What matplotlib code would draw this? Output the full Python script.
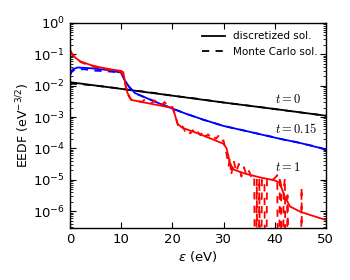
import numpy as np
import matplotlib
matplotlib.use("Agg")
import matplotlib.pyplot as plt

# t = 0
e_t0 = [0, 10, 20, 30, 40, 50]
sol_t0 = [1.29e-2, 7.9e-3, 4.8e-3, 2.9e-3, 1.8e-3, 1.1e-3]
e_mc_t0 = [0, 0.5, 2, 5, 8, 12, 16, 20, 25, 30, 35, 40, 45, 50]
mc_t0 = [1.08e-2, 1.15e-2, 1.12e-2, 1.0e-2, 8.8e-3, 7.2e-3, 6.0e-3,
         4.8e-3, 3.8e-3, 2.9e-3, 2.3e-3, 1.8e-3, 1.4e-3, 1.1e-3]

# t = 0.15
e_t15 = [0, 0.5, 1.5, 4, 7, 10, 10.7, 11.5, 12.7, 15, 18.5, 22.5, 26, 30, 35, 40, 45, 50]
sol_t15 = [2.4e-2, 3.3e-2, 3.8e-2, 3.6e-2, 3.2e-2, 2.6e-2, 1.5e-2, 9.5e-3, 5.8e-3,
           4.0e-3, 2.3e-3, 1.3e-3, 8.3e-4, 5.2e-4, 3.4e-4, 2.2e-4, 1.48e-4, 9.3e-5]
e_mc_t15 = [0, 0.5, 1.5, 3, 5, 7, 9, 10, 10.7, 11.5, 12.7, 15, 18.5, 22.5, 26, 30, 35,
            40, 42, 44, 46, 48, 50]
mc_t15 = [2.2e-2, 3.0e-2, 3.4e-2, 3.3e-2, 3.0e-2, 2.9e-2, 2.7e-2, 2.5e-2, 1.5e-2,
          9.3e-3, 5.7e-3, 4.0e-3, 2.35e-3, 1.3e-3, 8.2e-4, 5.2e-4, 3.4e-4,
          2.25e-4, 1.85e-4, 1.62e-4, 1.35e-4, 1.15e-4, 9.0e-5]

# t = 1
e_t1 = [0, 0.3, 1, 2, 4, 6, 8, 10, 10.4, 10.8, 11.2, 12, 15, 19, 20, 20.5, 21, 22,
        25, 28, 30, 30.6, 31.3, 32, 34, 37, 40, 41, 42, 43, 45, 48, 50]
sol_t1 = [1.41e-1, 1.12e-1, 7.9e-2, 6.0e-2, 4.57e-2, 3.8e-2, 3.31e-2, 2.95e-2,
          2.7e-2, 1.2e-2, 6.0e-3, 3.5e-3, 2.8e-3, 2.1e-3, 2.0e-3, 1.2e-3, 6.0e-4,
          4.5e-4, 3.0e-4, 1.9e-4, 1.4e-4, 1.0e-4, 3.2e-5, 2.1e-5, 1.6e-5, 1.2e-5,
          9.5e-6, 8.0e-6, 2.8e-6, 1.4e-6, 9.5e-7, 6.6e-7, 5.2e-7]
e_mc_t1 = [0, 0.5, 1, 2, 3, 4, 5, 6, 7, 8, 9, 10, 10.5, 11, 11.5, 12, 13, 14, 14.5,
           15, 16, 16.5, 17, 18, 18.5, 19, 20, 20.5, 21, 21.5, 22, 22.5, 23, 23.5,
           24, 24.5, 25, 25.5, 26, 26.5, 27, 27.5, 28, 28.5, 29, 29.5, 30, 30.5, 31,
           31.25, 31.5, 32, 32.5, 33, 33.5, 34, 34.5, 35, 35.5, 36, 36.25, 36.5,
           36.75, 37, 37.25, 37.5, 38, 38.25, 38.5, 39, 39.5, 40, 40.5, 40.75, 41,
           41.25, 41.5, 41.75, 42, 42.25, 42.5, 43, 45, 45.25, 45.5, 50]
mc_t1 = [1.26e-1, 9.5e-2, 7.6e-2, 5.75e-2, 4.9e-2, 4.27e-2, 3.9e-2, 3.55e-2,
         3.3e-2, 3.1e-2, 2.9e-2, 2.75e-2, 1.8e-2, 7.9e-3, 4.5e-3, 3.5e-3, 3.4e-3,
         3.0e-3, 3.5e-3, 3.0e-3, 2.8e-3, 3.4e-3, 2.6e-3, 2.5e-3, 3.0e-3, 2.3e-3,
         2.1e-3, 1.26e-3, 6.3e-4, 4.0e-4, 5.0e-4, 3.5e-4, 4.0e-4, 3.0e-4, 3.8e-4,
         2.8e-4, 3.3e-4, 2.6e-4, 3.5e-4, 2.4e-4, 2.8e-4, 2.2e-4, 2.5e-4, 2.0e-4,
         2.5e-4, 1.66e-4, 1.8e-4, 7.9e-5, 2.8e-5, 5.0e-5, 1.4e-5, 4.0e-5, 1.8e-5,
         3.2e-5, 1.26e-5, 2.5e-5, 1.4e-5, 1.9e-5, 1.12e-5, 1.26e-5, 1e-12, 1.0e-5,
         1e-12, 1.12e-5, 1e-12, 1.0e-5, 1.0e-5, 1e-12, 1.05e-5, 9.5e-6, 1.0e-5,
         1.12e-5, 1.4e-5, 1e-12, 1.26e-5, 6.3e-6, 1e-12, 5.0e-6, 1.12e-5, 1e-12,
         3.2e-6, 1e-12, 1e-12, 5.6e-6, 1e-12, 1e-12]

plt.rcParams["font.family"] = "DejaVu Sans"
plt.rcParams["mathtext.fontset"] = "dejavusans"

fig = plt.figure(figsize=(3.5, 2.8), dpi=100)
ax = fig.add_axes([0.2, 0.186, 0.731, 0.732])

lw = 1.3
dash = (0, (4, 3.5))
ax.plot(e_t0, sol_t0, color="black", lw=lw, label="discretized sol.")
ax.plot(e_mc_t0, mc_t0, color="black", lw=lw, ls=dash, label="Monte Carlo sol.")
ax.plot(e_t15, sol_t15, color="blue", lw=lw)
ax.plot(e_mc_t15, mc_t15, color="blue", lw=lw, ls=dash)
ax.plot(e_t1, sol_t1, color="red", lw=lw)
ax.plot(e_mc_t1, mc_t1, color="red", lw=lw, ls=dash)

ax.set_yscale("log")
ax.set_xlim(0, 50)
ax.set_ylim(2.9e-7, 1)
ax.set_xticks([0, 10, 20, 30, 40, 50])
ax.tick_params(which="both", direction="in", top=True, right=True, labelsize=9.5)
ax.tick_params(which="major", length=4)
ax.tick_params(which="minor", length=2)
for s in ax.spines.values():
    s.set_linewidth(1.0)

ax.set_xlabel(r"$\varepsilon$ (eV)", fontsize=9.5, labelpad=2)
ax.set_ylabel(r"EEDF (eV$^{-3/2}$)", fontsize=9, labelpad=1)

ax.text(40, 10 ** -2.43, r"$t=0$", fontsize=9, va="center", math_fontfamily="cm")
ax.text(40, 10 ** -3.39, r"$t=0.15$", fontsize=9, va="center", math_fontfamily="cm")
ax.text(40, 10 ** -4.6, r"$t=1$", fontsize=9, va="center", math_fontfamily="cm")

ax.legend(loc="upper right", frameon=False, fontsize=7.5, handlelength=2.2,
          handletextpad=0.8, labelspacing=0.5, borderaxespad=0.4)

fig.savefig("out.png", dpi=100)
